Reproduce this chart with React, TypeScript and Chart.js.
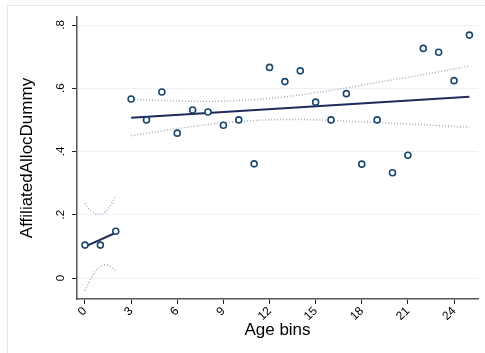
import React, { useEffect, useRef } from "react";
import { Chart, registerables } from "chart.js";

Chart.register(...registerables);

// ---- data ----
const ageBins = [0, 1, 2, 3, 4, 5, 6, 7, 8, 9, 10, 11, 12, 13, 14, 15, 16, 17, 18, 19, 20, 21, 22, 23, 24, 25];
const allocShare = [
  0.104, 0.104, 0.148, 0.566, 0.5, 0.588, 0.458, 0.531, 0.525, 0.483, 0.5, 0.361, 0.666,
  0.621, 0.655, 0.556, 0.5, 0.583, 0.36, 0.5, 0.333, 0.388, 0.726, 0.714, 0.624, 0.768,
];

const fitLowX = [0, 2];
const fitLowY = [0.099, 0.143];
const fitHighX = [3, 25];
const fitHighY = [0.507, 0.573];

const ciLowX = [0, 0.25, 0.5, 0.75, 1, 1.25, 1.5, 1.75, 2];
const ciLowUpper = [0.236, 0.219, 0.208, 0.202, 0.202, 0.207, 0.219, 0.237, 0.262];
const ciLowLower = [-0.041, -0.015, 0.008, 0.025, 0.036, 0.041, 0.04, 0.033, 0.024];

const ciHighX = [3, 5, 7, 9, 11, 13, 15, 17, 19, 21, 23, 25];
const ciHighUpper = [0.565, 0.561, 0.559, 0.559, 0.564, 0.573, 0.586, 0.601, 0.618, 0.635, 0.652, 0.67];
const ciHighLower = [0.45, 0.465, 0.479, 0.491, 0.498, 0.501, 0.5, 0.496, 0.492, 0.487, 0.482, 0.476];

const xTicks = [0, 3, 6, 9, 12, 15, 18, 21, 24];
const xTickLabels = ["0", "3", "6", "9", "12", "15", "18", "21", "24"];
const yTicks = [0, 0.2, 0.4, 0.6, 0.8];
const yTickLabels = ["0", ".2", ".4", ".6", ".8"];

const xTitle = "Age bins";
const yTitle = "AffiliatedAllocDummy";

// ---- styles ----
const FONT = "'Liberation Sans', Arial, Helvetica, sans-serif";
const NAVY = "#1a476f";
const FIT = "#1f2b5b";
const CI = "#a9a9c2";
const GRID = "#eaf2f3";
const AXIS = "#555555";
const TICK = "#222222";

const pts = (xs: number[], ys: number[]) => xs.map((x, i) => ({ x, y: ys[i] }));

const findLabel = (vals: number[], labels: string[], v: number) => {
  const i = vals.findIndex((t) => Math.abs(t - v) < 1e-9);
  return i >= 0 ? labels[i] : "";
};

const framePlugin = {
  id: "frame",
  beforeDraw(chart: any) {
    const ctx = chart.ctx;
    ctx.save();
    ctx.fillStyle = "#ffffff";
    ctx.fillRect(0, 0, chart.width, chart.height);
    ctx.strokeStyle = "#e2ebeb";
    ctx.lineWidth = 1;
    ctx.strokeRect(7.5, 5.5, chart.width + 20, chart.height + 20);
    ctx.restore();
  },
};

export default function App() {
  const ref = useRef<HTMLCanvasElement | null>(null);

  useEffect(() => {
    if (!ref.current) return;
    const ciStyle = {
      showLine: true,
      borderColor: CI,
      borderWidth: 1.5,
      borderDash: [1, 2],
      pointRadius: 0,
      tension: 0.4,
      fill: false,
    };
    const fitStyle = {
      showLine: true,
      borderColor: FIT,
      borderWidth: 2,
      pointRadius: 0,
      fill: false,
    };
    const chart = new Chart(ref.current, {
      type: "scatter",
      data: {
        datasets: [
          {
            label: yTitle,
            data: pts(ageBins, allocShare),
            showLine: false,
            pointRadius: 3,
            pointBorderWidth: 1.6,
            pointBorderColor: NAVY,
            pointBackgroundColor: "#ffffff",
            borderColor: NAVY,
            backgroundColor: "#ffffff",
          } as any,
          { label: "fit1", data: pts(fitLowX, fitLowY), ...fitStyle } as any,
          { label: "fit2", data: pts(fitHighX, fitHighY), ...fitStyle } as any,
          { label: "ci1u", data: pts(ciLowX, ciLowUpper), ...ciStyle } as any,
          { label: "ci1l", data: pts(ciLowX, ciLowLower), ...ciStyle } as any,
          { label: "ci2u", data: pts(ciHighX, ciHighUpper), ...ciStyle } as any,
          { label: "ci2l", data: pts(ciHighX, ciHighLower), ...ciStyle } as any,
        ],
      },
      options: {
        animation: false,
        responsive: false,
        devicePixelRatio: 1,
        layout: { padding: { left: 0, right: 7, top: 17, bottom: 0 } },
        plugins: {
          legend: { display: false },
          tooltip: { enabled: false },
        },
        scales: {
          x: {
            type: "linear",
            min: -0.52,
            max: 25.56,
            afterBuildTicks: (s: any) => {
              s.ticks = xTicks.map((v) => ({ value: v }));
            },
            afterFit: (s: any) => {
              s.height = 54;
            },
            ticks: {
              autoSkip: false,
              minRotation: 45,
              maxRotation: 45,
              padding: 0,
              color: "#000",
              font: { family: FONT, size: 12, lineHeight: 1.2 },
              callback: (v: any) => findLabel(xTicks, xTickLabels, Number(v)),
            },
            grid: {
              drawOnChartArea: false,
              tickLength: 5,
              tickColor: TICK,
              tickWidth: 1,
            },
            border: { display: true, color: AXIS, width: 1.5 },
            title: {
              display: true,
              text: xTitle,
              color: "#000",
              font: { family: FONT, size: 17, lineHeight: 1.2 },
              padding: { top: 0, bottom: 12 },
            },
          },
          y: {
            type: "linear",
            min: -0.0664,
            max: 0.8253,
            afterBuildTicks: (s: any) => {
              s.ticks = yTicks.map((v) => ({ value: v }));
            },
            afterFit: (s: any) => {
              s.width = 77;
            },
            ticks: {
              autoSkip: false,
              minRotation: 90,
              maxRotation: 90,
              crossAlign: "center",
              padding: 6,
              color: "#000",
              font: { family: FONT, size: 11.5, lineHeight: 1.2 },
              callback: (v: any) => findLabel(yTicks, yTickLabels, Number(v)),
            },
            grid: {
              color: GRID,
              lineWidth: 1,
              tickLength: 5,
              tickColor: TICK,
              tickWidth: 1,
            },
            border: { display: true, color: AXIS, width: 1.5 },
            title: {
              display: true,
              text: yTitle,
              color: "#000",
              font: { family: FONT, size: 17, lineHeight: 1.2 },
              padding: { top: 17, bottom: 0 },
            },
          },
        },
      } as any,
      plugins: [framePlugin],
    });
    return () => chart.destroy();
  }, []);

  return (
    <div style={{ position: "absolute", left: 0, top: 0, width: 485, height: 353 }}>
      <canvas ref={ref} width={485} height={353} style={{ display: "block", width: 485, height: 353 }} />
    </div>
  );
}
